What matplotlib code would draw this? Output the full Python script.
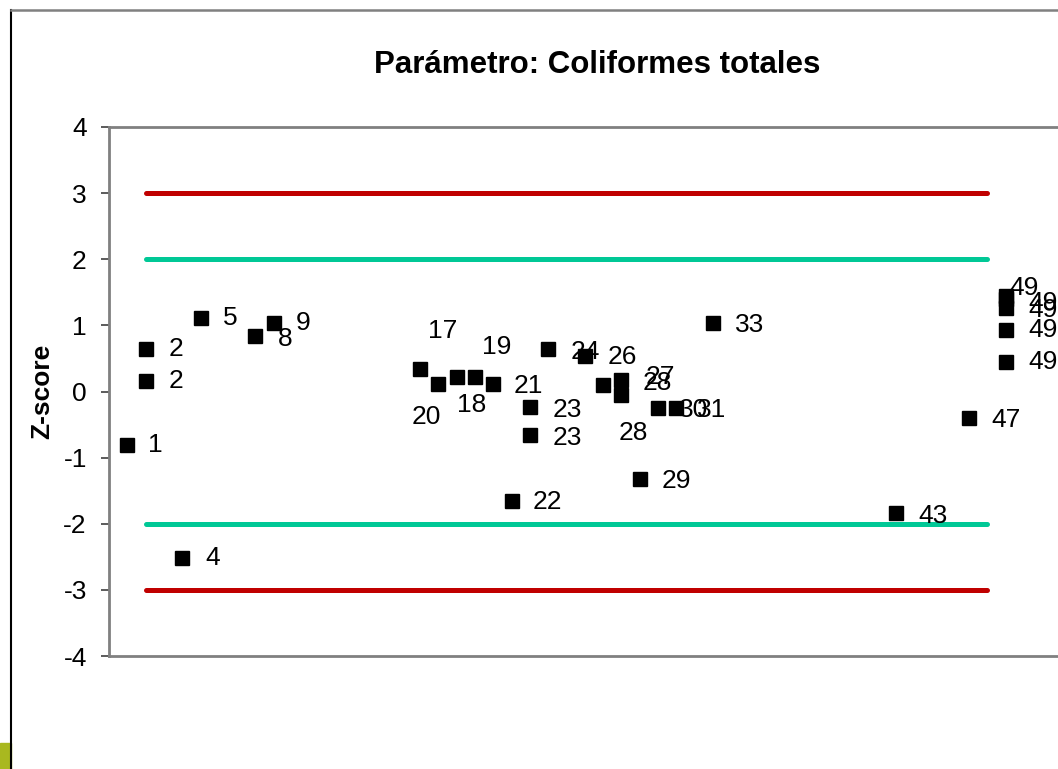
import matplotlib
matplotlib.use("Agg")
import matplotlib.pyplot as plt
from matplotlib.lines import Line2D
from matplotlib.patches import Rectangle

# ---- data ----
lab_index = [1, 2, 2, 4, 5, 8, 9, 17, 18, 19, 20, 21, 22, 23, 23, 24, 26, 27, 28, 28,
             29, 30, 31, 33, 43, 47, 49, 49, 49, 49, 49]
z_scores = [-0.81, 0.64, 0.16, -2.52, 1.11, 0.84, 1.04, 0.34, 0.11, 0.22, 0.22, 0.11, -1.65,
            -0.24, -0.66, 0.64, 0.54, 0.10, 0.18, -0.06, -1.33, -0.25, -0.25, 1.04, -1.84,
            -0.40, 1.45, 1.40, 1.27, 0.93, 0.44]
point_labels = ["1", "2", "2", "4", "5", "8", "9", "17", "18", "19", "20", "21", "22", "23", "23",
                "24", "26", "27", "28", "28", "29", "30", "31", "33", "43", "47", "49", "49", "49",
                "49", "49"]
limit_x = [2, 48]
action_limits = [3, -3]
warning_limits = [2, -2]
y_ticks = [-4, -3, -2, -1, 0, 1, 2, 3, 4]
title = "Parámetro: Coliformes totales"
y_title = "Z-score"

# label offsets in pixels (style only)
label_offsets = [(28, 0), (30, 0), (30, 0), (30, 0), (30, 0), (30, -3), (29, 0),
                 (23, 38), (33, -21), (40, 30), (-49, -40), (35, -2), (36, -1),
                 (37, -3), (37, -3), (37, -3), (38, -1), (57, 8), (36, -3), (12, -38),
                 (37, -2), (36, -2), (35, -2), (37, -2), (37, -3), (37, -2),
                 (18, 8), (37, -4), (37, -2), (37, 0), (37, 0)]

plt.rcParams['font.family'] = ['Liberation Sans', 'DejaVu Sans']

W, H = 1058, 769
fig = plt.figure(figsize=(W / 100, H / 100), dpi=100)
fig.patch.set_facecolor("white")

# outer frame pieces
fig.add_artist(Line2D([11 / W, 11 / W], [0, 1 - 10 / H], color="black", lw=1.5,
                      transform=fig.transFigure))
fig.add_artist(Line2D([11 / W, 1], [1 - 10 / H, 1 - 10 / H], color="#808080", lw=1.8,
                      transform=fig.transFigure))
fig.add_artist(Rectangle((0, 0), 11 / W, 26 / H, color="#A9B81F",
                         transform=fig.transFigure))

left, right_px = 109, 109 + 52 * 18.3
ax = fig.add_axes([left / W, (H - 656) / H, (right_px - left) / W, (656 - 127) / H])
ax.set_xlim(0, 52)
ax.set_ylim(-4, 4)

for v in action_limits:
    ax.plot(limit_x, [v, v], color="#C00000", lw=3.6, solid_capstyle="round", zorder=2)
for v in warning_limits:
    ax.plot(limit_x, [v, v], color="#00C896", lw=3.6, solid_capstyle="round", zorder=2)

ax.plot(lab_index, z_scores, linestyle="none", marker="s", markersize=10.5,
        color="black", zorder=3, clip_on=False)

for x, y, t, (dx, dy) in zip(lab_index, z_scores, point_labels, label_offsets):
    ax.annotate(t, (x, y), xytext=(dx, dy), textcoords="offset pixels",
                ha="center", va="center", fontsize=19, color="black", zorder=4)

ax.set_yticks(y_ticks)
ax.set_yticklabels([str(v) for v in y_ticks])
ax.set_xticks([])
ax.tick_params(axis="y", direction="out", length=6, width=1.2, color="#404040",
               labelsize=19, pad=10)
for s in ["left", "bottom", "top"]:
    ax.spines[s].set_color("#808080")
    ax.spines[s].set_linewidth(2)
ax.spines["right"].set_visible(False)

fig.text(597 / W, 1 - 65 / H, title, ha="center", va="center", fontsize=22.5,
         fontweight="bold")
fig.text(42 / W, 1 - 391 / H, y_title, ha="center", va="center", rotation=90,
         fontsize=19, fontweight="bold")

fig.savefig("out.png", dpi=100)
